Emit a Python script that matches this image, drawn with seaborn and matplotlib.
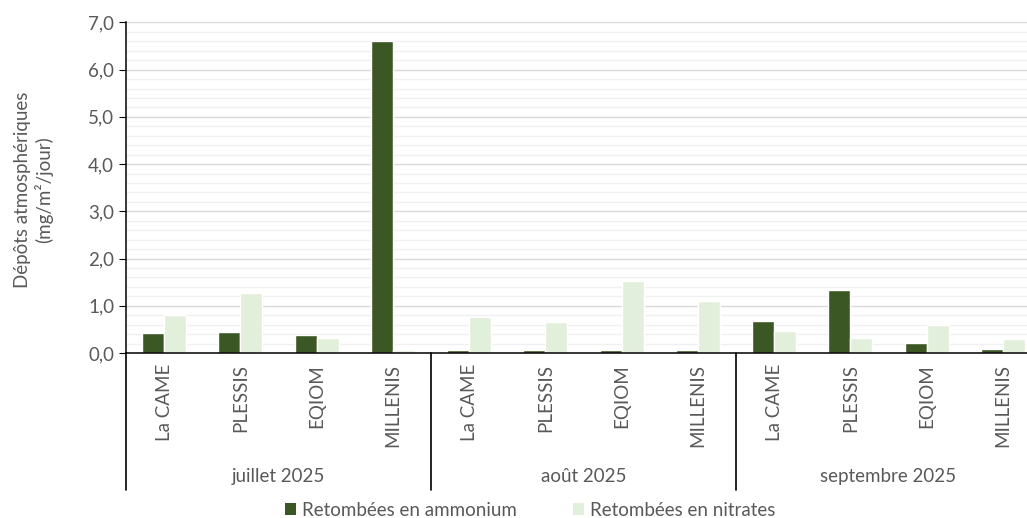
import pandas as pd
import numpy as np
import matplotlib
matplotlib.use("Agg")
import matplotlib.pyplot as plt
import seaborn as sns
from matplotlib.ticker import MultipleLocator, FuncFormatter
from matplotlib.patches import Patch

# Data
mois = ["juillet 2025", "août 2025", "septembre 2025"]
sites = ["La CAME", "PLESSIS", "EQIOM", "MILLENIS"]
ammonium = [0.42, 0.44, 0.38, 6.61,
            0.06, 0.06, 0.06, 0.06,
            0.68, 1.33, 0.22, 0.085]
nitrates = [0.80, 1.28, 0.32, 0.06,
            0.77, 0.65, 1.53, 1.11,
            0.46, 0.32, 0.60, 0.30]
series = ["Retombées en ammonium", "Retombées en nitrates"]
colors = ["#3B5724", "#E2EFDA"]

slots = [f"{m}|{s}" for m in mois for s in sites]
df = pd.DataFrame({
    "slot": slots * 2,
    "serie": [series[0]] * len(slots) + [series[1]] * len(slots),
    "valeur": ammonium + nitrates,
})

sns.set_style("white")
plt.rcParams["font.family"] = ["Lato", "DejaVu Sans"]
txt = "#595959"
fs = 13.5

fig = plt.figure(figsize=(10.27, 5.18), dpi=100)
ax = fig.add_axes([126 / 1027, 1 - 353 / 518, 915 / 1027, 330.6 / 518])

sns.barplot(data=df, x="slot", y="valeur", hue="serie", order=slots,
            hue_order=series, palette=colors, width=0.58, gap=0,
            saturation=1, ax=ax, legend=False)

ax.set_xlim(-0.5, len(slots) - 0.5)
ax.set_ylim(0, 7)
ax.yaxis.set_major_locator(MultipleLocator(1))
ax.yaxis.set_minor_locator(MultipleLocator(0.2))
ax.yaxis.set_major_formatter(FuncFormatter(lambda v, p: f"{v:.1f}".replace(".", ",")))
ax.grid(True, which="minor", axis="y", color="#F0F0F0", linewidth=1)
ax.grid(True, which="major", axis="y", color="#D9D9D9", linewidth=1)
ax.set_axisbelow(True)

for s in ["top", "right"]:
    ax.spines[s].set_visible(False)
for s in ["left", "bottom"]:
    ax.spines[s].set_color("black")
    ax.spines[s].set_linewidth(1.1)

ax.tick_params(axis="y", which="major", direction="out", length=5, color="black",
               labelsize=fs, labelcolor=txt, left=True)
ax.tick_params(axis="y", which="minor", length=0)
ax.set_xticks(range(len(slots)))
ax.set_xticklabels(sites * len(mois), rotation=90, fontsize=fs, color=txt)
ax.tick_params(axis="x", length=0, pad=8)
ax.set_xlabel("")
ax.set_ylabel("")

# group separators and month labels
trans = ax.get_xaxis_transform()
for i in range(len(mois) + 1):
    ax.plot([i * 4 - 0.5] * 2, [0, -0.415], transform=trans, color="black",
            linewidth=1.2, clip_on=False)
for i, m in enumerate(mois):
    ax.text(i * 4 + 1.5, -0.375, m, transform=trans, ha="center", va="center",
            fontsize=fs, color=txt)

fig.text(34 / 1027, 1 - 190 / 518, "Dépôts atmosphériques\n(mg/m²/jour)",
         rotation=90, ha="center", va="center", fontsize=fs, color=txt,
         multialignment="center")

handles = [Patch(facecolor=c, edgecolor="none") for c in colors]
fig.legend(handles, series, loc="center", bbox_to_anchor=(530 / 1027, 1 - 510 / 518),
           ncol=2, frameon=False, fontsize=fs, labelcolor=txt,
           handlelength=0.6, handleheight=0.6, handletextpad=0.3, columnspacing=3.0)

fig.savefig("out.png", dpi=100, facecolor="white")
